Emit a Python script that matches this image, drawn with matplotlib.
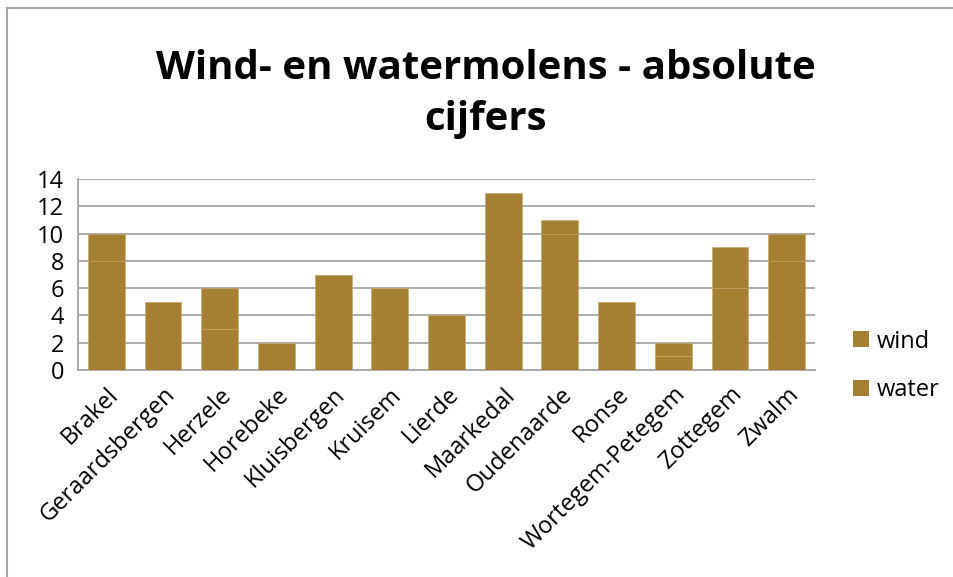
import matplotlib
matplotlib.use("Agg")
import matplotlib.pyplot as plt
import numpy as np
from matplotlib.patches import Patch

categories = ["Brakel", "Geraardsbergen", "Herzele", "Horebeke", "Kluisbergen",
              "Kruisem", "Lierde", "Maarkedal", "Oudenaarde", "Ronse",
              "Wortegem-Petegem", "Zottegem", "Zwalm"]
wind = [8, 5, 3, 2, 7, 6, 4, 13, 10, 5, 1, 6, 8]
water = [2, 0, 3, 0, 0, 0, 0, 0, 1, 0, 1, 3, 2]
yticks = [0, 2, 4, 6, 8, 10, 12, 14]

title = "Wind- en watermolens - absolute\ncijfers"
bar_color = "#A68032"
grid_color = "#A6A6A6"
font = ["Open Sans", "DejaVu Sans"]

fig = plt.figure(figsize=(9.54, 5.77), dpi=100)
ax = fig.add_axes([78/954, 1-370/577, (815-78)/954, (370-179)/577])

x = np.arange(len(categories))
ax.bar(x, wind, width=0.65, color=bar_color, edgecolor="#C4A86E", linewidth=0.4,
       label="wind", zorder=3)
ax.bar(x, water, bottom=wind, width=0.65, color=bar_color, edgecolor="#C4A86E",
       linewidth=0.4, label="water", zorder=3)

ax.set_xlim(-0.5, len(categories)-0.5)
ax.set_ylim(0, 14)
ax.set_yticks(yticks)
ax.set_yticklabels([str(v) for v in yticks], fontsize=17, family=font)
ax.yaxis.grid(True, color=grid_color, linewidth=1.3, zorder=0)
ax.set_axisbelow(True)
ax.tick_params(axis="y", length=0, pad=10)
ax.tick_params(axis="x", length=0, pad=9)
ax.set_xticks(x)
ax.set_xticklabels(categories, rotation=45, ha="right", rotation_mode="anchor",
                   fontsize=17, family=font)
for s in ["top", "right"]:
    ax.spines[s].set_visible(False)
for s in ["left", "bottom"]:
    ax.spines[s].set_color(grid_color)
    ax.spines[s].set_linewidth(1.3)

fig.text(486/954, 1-94/577, title, ha="center", va="center", fontsize=29,
         fontweight="bold", family=font, linespacing=1.42)

handles = [Patch(facecolor=bar_color, label="wind"),
           Patch(facecolor=bar_color, label="water")]
fig.legend(handles=handles, loc="center left", bbox_to_anchor=(832/954, 1-366/577),
           frameon=False, prop={"family": font, "size": 17},
           handlelength=0.65, handleheight=0.65, handletextpad=0.35, labelspacing=1.05)

# chart frame (left and top edges visible)
fig.add_artist(plt.Line2D([7.5/954, 7.5/954], [0, 1-8/577], transform=fig.transFigure,
                          color="#A6A6A6", linewidth=1.5))
fig.add_artist(plt.Line2D([7.5/954, 1], [1-8/577, 1-8/577], transform=fig.transFigure,
                          color="#A6A6A6", linewidth=1.5))

fig.savefig("out.png", dpi=100)
